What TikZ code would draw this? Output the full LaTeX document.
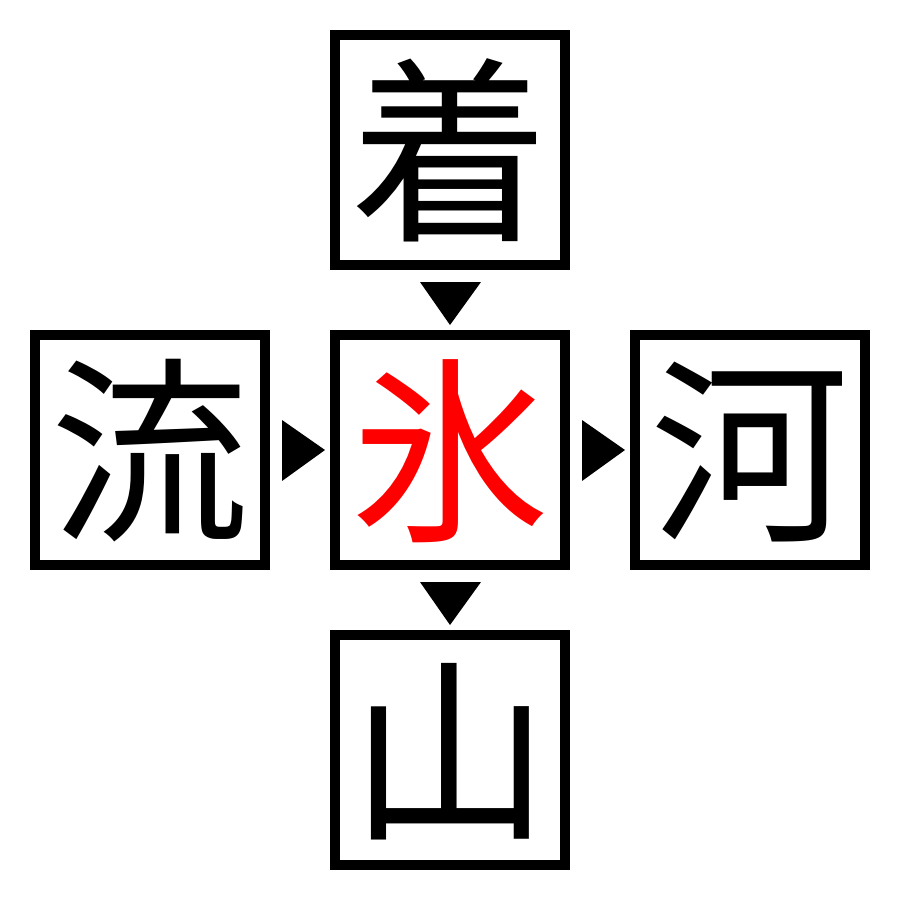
\documentclass[tikz,border=0pt]{standalone}
\usepackage{fontspec}
\usetikzlibrary{calc}
\newfontfamily\cjk{Noto Sans CJK JP}
\begin{document}
\begin{tikzpicture}[x=0.03cm,y=-0.03cm,
  charbox/.style={draw=black,line width=0.3cm,minimum size=6.9cm,inner sep=0pt,
    font=\cjk\fontsize{170}{170}\selectfont,text height=150pt,text depth=20pt},
  tri/.style={fill=black,draw=none}]
\useasboundingbox (0,0) rectangle (900,900);
\node[charbox] (top) at (450,150) {着};
\node[charbox] (left) at (150,450) {流};
\node[charbox,text=red] (mid) at (450,450) {氷};
\node[charbox] (right) at (750,450) {河};
\node[charbox] (bot) at (450,750) {山};
\coordinate (c1) at ($(top.south)!0.5!(mid.north)$);
\coordinate (c2) at ($(mid.south)!0.5!(bot.north)$);
\coordinate (c3) at ($(left.east)!0.5!(mid.west)$);
\coordinate (c4) at ($(mid.east)!0.5!(right.west)$);
\fill[tri] ($(c1)+(-30,-18)$) -- ($(c1)+(31,-18)$) -- ($(c1)+(0,25)$) -- cycle;
\fill[tri] ($(c2)+(-30,-18)$) -- ($(c2)+(31,-18)$) -- ($(c2)+(0,25)$) -- cycle;
\fill[tri] ($(c3)+(-18,-30)$) -- ($(c3)+(-18,31)$) -- ($(c3)+(25,0)$) -- cycle;
\fill[tri] ($(c4)+(-18,-30)$) -- ($(c4)+(-18,31)$) -- ($(c4)+(25,0)$) -- cycle;
\end{tikzpicture}
\end{document}
